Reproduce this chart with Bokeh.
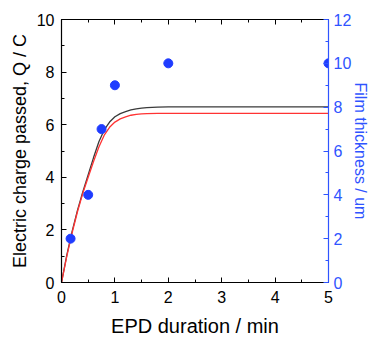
from bokeh.plotting import figure
from bokeh.models import LinearAxis, Range1d, SingleIntervalTicker
from bokeh.embed import file_html
from bokeh.resources import INLINE

# Electric charge curves (Q / C) vs EPD duration (min)
t_curve = [0, 0.1, 0.2, 0.3, 0.4, 0.5, 0.6, 0.7, 0.8, 0.9, 1.0, 1.1, 1.2, 1.3, 1.4, 1.5, 1.6, 1.8, 2.0, 5.0]
q_black = [0, 1.05, 1.95, 2.75, 3.45, 4.1, 4.75, 5.35, 5.8, 6.1, 6.3, 6.42, 6.5, 6.56, 6.6, 6.63, 6.65, 6.67, 6.68, 6.68]
q_red = [0, 1.0, 1.9, 2.7, 3.4, 4.0, 4.6, 5.15, 5.6, 5.9, 6.1, 6.22, 6.3, 6.36, 6.39, 6.41, 6.42, 6.43, 6.43, 6.43]

# Film thickness points (um)
t_pts = [0.17, 0.5, 0.75, 1.0, 2.0, 5.0]
thick = [2.0, 4.0, 7.0, 9.0, 10.0, 10.0]

FONT = "Liberation Sans"
BLUE = "#2f54ff"
DOT = "#1f3cff"

p = figure(width=372, height=339, x_range=(0, 5), y_range=(0, 10),
           output_backend="svg", toolbar_location=None,
           min_border_left=61, min_border_top=19, min_border_right=44, min_border_bottom=55,
           x_axis_label="EPD duration / min", y_axis_label="Electric charge passed, Q / C")
p.extra_y_ranges = {"thick": Range1d(0, 12)}
p.grid.visible = False
p.outline_line_color = None
p.background_fill_color = "white"
p.border_fill_color = "white"

p.line(t_curve, q_black, line_color="#3a3a3a", line_width=1.3)
p.line(t_curve, q_red, line_color="#ff3333", line_width=1.3)
p.scatter(t_pts, thick, y_range_name="thick", size=9, fill_color=DOT, line_color=DOT)

def style(ax, color="black", labels=True):
    ax.axis_line_color = color
    ax.major_tick_line_color = color
    ax.minor_tick_line_color = color
    ax.major_tick_in = 5
    ax.major_tick_out = 0
    ax.minor_tick_in = 3
    ax.minor_tick_out = 0
    ax.axis_line_width = 1.2
    ax.major_label_text_font = FONT
    ax.major_label_text_font_size = "16px"
    ax.major_label_text_color = color
    ax.axis_label_text_font = FONT
    ax.axis_label_text_font_size = "18px"
    ax.axis_label_text_font_style = "normal"
    ax.axis_label_text_color = color
    if not labels:
        ax.major_label_text_font_size = "0px"
        ax.major_label_text_color = None
        ax.major_label_standoff = 0

p.xaxis.ticker = SingleIntervalTicker(interval=1, num_minor_ticks=2)
p.yaxis.ticker = SingleIntervalTicker(interval=2, num_minor_ticks=2)
style(p.xaxis[0])
style(p.yaxis[0])
p.xaxis.axis_label_text_font_size = "20px"
p.xaxis.major_label_standoff = 8
p.xaxis.axis_label_standoff = 9
p.yaxis.major_label_standoff = 7
p.yaxis.axis_label_standoff = 4

top = LinearAxis(ticker=SingleIntervalTicker(interval=1, num_minor_ticks=2))
style(top, labels=False)
p.add_layout(top, "above")

right = LinearAxis(y_range_name="thick", ticker=SingleIntervalTicker(interval=2, num_minor_ticks=2),
                   axis_label="Film thickness / um")
style(right, color=BLUE)
right.axis_label_text_font_size = "16px"
right.major_label_standoff = 5
right.axis_label_standoff = -2
p.add_layout(right, "right")

open("out.html", "w").write(file_html(p, INLINE))
